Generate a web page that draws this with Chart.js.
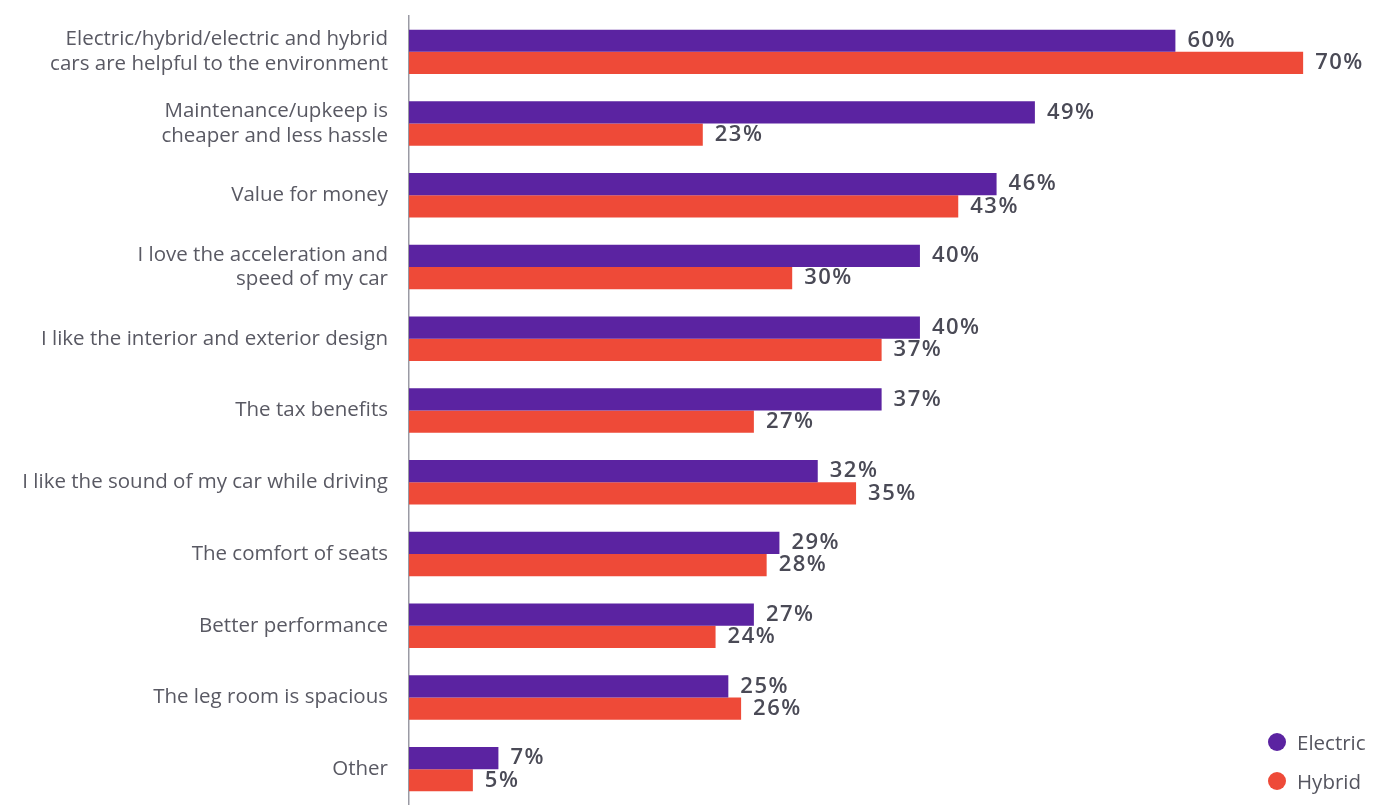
<!DOCTYPE html>
<html>
<head>
<meta charset="utf-8">
<script src="https://cdn.jsdelivr.net/npm/chart.js@4/dist/chart.umd.min.js"></script>
<style>
  html, body { margin: 0; padding: 0; background: #fff; }
  .wrap { position: relative; width: 1386px; height: 805px; }
  canvas { display: block; }
  .legend { position: absolute; left: 1268px; top: 722px; font: 20.5px "Open Sans", sans-serif; color: #55555f; }
  .legend div { display: flex; align-items: center; height: 39px; }
  .legend span { display: inline-block; width: 18px; height: 18px; border-radius: 50%; margin-right: 11px; }
</style>
</head>
<body>
<div class="wrap">
  <canvas id="chart" width="1386" height="805"></canvas>
  <div class="legend">
    <div><span style="background:#5b23a1"></span>Electric</div>
    <div><span style="background:#ee4a38"></span>Hybrid</div>
  </div>
</div>
<script>
(() => {
'use strict';

const categories = [
    ['Electric/hybrid/electric and hybrid', 'cars are helpful to the environment'],
    ['Maintenance/upkeep is', 'cheaper and less hassle'],
    'Value for money',
    ['I love the acceleration and', 'speed of my car'],
    'I like the interior and exterior design',
    'The tax benefits',
    'I like the sound of my car while driving',
    'The comfort of seats',
    'Better performance',
    'The leg room is spacious',
    'Other'
];
const electric = [60, 49, 46, 40, 40, 37, 32, 29, 27, 25, 7];
const hybrid = [70, 23, 43, 30, 37, 27, 35, 28, 24, 26, 5];

const PURPLE = '#5b23a1';
const RED = '#ee4a38';

// percentage text at the end of each bar
const valueLabels = {
    id: 'valueLabels',
    afterDatasetsDraw(chart) {
        const ctx = chart.ctx;
        ctx.save();
        ctx.font = '600 22px "Open Sans", sans-serif';
        ctx.letterSpacing = '1.5px';
        ctx.fillStyle = '#4a4a56';
        ctx.textAlign = 'left';
        ctx.textBaseline = 'middle';
        chart.data.datasets.forEach((ds, i) => {
            chart.getDatasetMeta(i).data.forEach((bar, j) => {
                ctx.fillText(ds.data[j] + '%', bar.x + 12, bar.y);
            });
        });
        ctx.restore();
    }
};

new Chart(document.getElementById('chart'), {
    type: 'bar',
    data: {
        labels: categories,
        datasets: [
            { label: 'Electric', data: electric, backgroundColor: PURPLE },
            { label: 'Hybrid', data: hybrid, backgroundColor: RED }
        ]
    },
    options: {
        indexAxis: 'y',
        responsive: false,
        animation: false,
        categoryPercentage: 0.62,
        barPercentage: 1,
        layout: { padding: { top: 16, right: 19, bottom: 0, left: 0 } },
        plugins: {
            legend: { display: false },
            tooltip: { enabled: false }
        },
        scales: {
            x: {
                display: false,
                min: 0,
                max: 75
            },
            y: {
                afterFit: s => {
                    s.width = 409;
                    s.paddingTop = 0;
                    s.paddingBottom = 0;
                },
                grid: { display: false, drawTicks: false },
                border: { display: true, color: '#9a9aa4', width: 1.5 },
                ticks: {
                    color: '#595963',
                    padding: 21,
                    font: { family: 'Open Sans', size: 20.5 },
                    lineHeight: 1.27
                }
            }
        }
    },
    plugins: [valueLabels]
});
})();
</script>
</body>
</html>
